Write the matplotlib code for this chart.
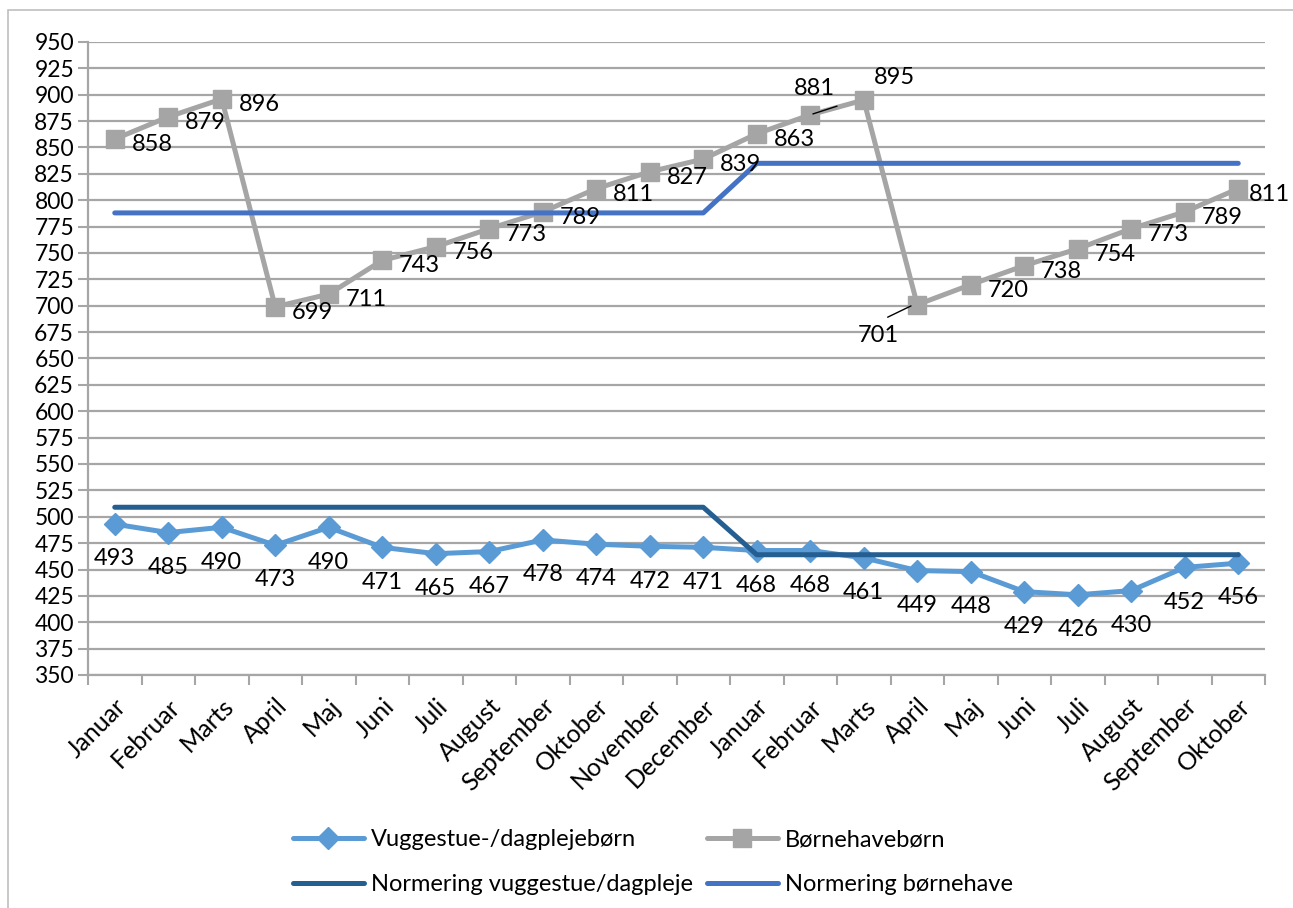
import matplotlib.pyplot as plt
from matplotlib.patches import Rectangle
from matplotlib.lines import Line2D
import numpy as np

plt.rcParams['font.family'] = ['Lato', 'DejaVu Sans']

# data
months = ["Januar", "Februar", "Marts", "April", "Maj", "Juni", "Juli", "August",
          "September", "Oktober", "November", "December",
          "Januar", "Februar", "Marts", "April", "Maj", "Juni", "Juli", "August",
          "September", "Oktober"]
vuggestue = [493, 485, 490, 473, 490, 471, 465, 467, 478, 474, 472, 471,
             468, 468, 461, 449, 448, 429, 426, 430, 452, 456]
boernehave = [858, 879, 896, 699, 711, 743, 756, 773, 789, 811, 827, 839,
              863, 881, 895, 701, 720, 738, 754, 773, 789, 811]
norm_vugge = [509] * 12 + [464] * 10
norm_boern = [788] * 12 + [835] * 10

c_vugge = '#5B9BD5'
c_boern = '#A5A5A5'
c_nvugge = '#255E91'
c_nboern = '#4472C4'

W, H = 1293, 908
fig = plt.figure(figsize=(W / 100, H / 100), dpi=100)

# outer chart frame (cut off at right/bottom in the reference)
fig.patches.append(Rectangle((8 / W, -0.1), 1.2, 1 - 10 / H + 0.1, transform=fig.transFigure,
                             fill=False, edgecolor='#BFBFBF', lw=1.2))

ax = fig.add_axes([88 / W, 1 - 675 / H, (1265 - 88) / W, (675 - 42) / H])
x = np.arange(len(months))

ax.plot(x, vuggestue, color=c_vugge, lw=3.6, marker='D', ms=11, zorder=3,
        solid_capstyle='round', label='Vuggestue-/dagplejebørn')
ax.plot(x, boernehave, color=c_boern, lw=3.6, marker='s', ms=13, zorder=3,
        solid_capstyle='round', label='Børnehavebørn')
ax.plot(x, norm_vugge, color=c_nvugge, lw=3.6, zorder=4, solid_capstyle='round',
        label='Normering vuggestue/dagpleje')
ax.plot(x, norm_boern, color=c_nboern, lw=3.6, zorder=4, solid_capstyle='round',
        label='Normering børnehave')

ax.set_xlim(-0.5, len(months) - 0.5)
ax.set_ylim(350, 950)
ax.set_yticks(np.arange(350, 951, 25))
ax.set_xticks(np.arange(-0.5, len(months), 1), minor=False)
ax.set_xticklabels([])
ax.set_xticks(x, minor=True)
ax.set_xticklabels(months, minor=True, rotation=45, ha='right', rotation_mode='anchor',
                   fontsize=18)
ax.tick_params(axis='x', which='major', length=7, width=1.5, color='#A6A6A6')
ax.tick_params(axis='x', which='minor', length=0, pad=14)
ax.tick_params(axis='y', length=7, width=1.5, color='#A6A6A6', labelsize=16.5, pad=3)

ax.grid(axis='y', color='#A6A6A6', lw=1.6)
ax.set_axisbelow(True)
for s in ['top', 'right']:
    ax.spines[s].set_visible(False)
for s in ['left', 'bottom']:
    ax.spines[s].set_color('#A6A6A6')
    ax.spines[s].set_linewidth(1.6)

# data labels
for xi, v in zip(x, vuggestue):
    ax.annotate(str(v), (xi, v), xytext=(0, -25), textcoords='offset points',
                ha='center', va='center', fontsize=17, zorder=6)

special = {13: (3, 19), 14: (22, 16), 15: (-28, -22)}
last = len(boernehave) - 1
for xi, v in zip(x, boernehave):
    if xi in special:
        dx, dy = special[xi]
        ax.annotate(str(v), (xi, v), xytext=(dx, dy), textcoords='offset points',
                    ha='center', va='center', fontsize=17, zorder=6)
    else:
        dx = 8 if xi == last else 12
        ax.annotate(str(v), (xi, v), xytext=(dx, -4), textcoords='offset points',
                    ha='left', va='center', fontsize=17, zorder=6)

# leader lines for the moved labels
ax.annotate('', (13, 881), xytext=(13.55, 890), arrowprops=dict(arrowstyle='-', lw=1, color='black'))
ax.annotate('', (14.93, 701), xytext=(14.4, 688), arrowprops=dict(arrowstyle='-', lw=1, color='black'))

handles = [
    Line2D([], [], color=c_vugge, lw=3.6, marker='D', ms=11, solid_capstyle='round'),
    Line2D([], [], color=c_nvugge, lw=3.6, solid_capstyle='round'),
    Line2D([], [], color=c_boern, lw=3.6, marker='s', ms=13, solid_capstyle='round'),
    Line2D([], [], color=c_nboern, lw=3.6, solid_capstyle='round'),
]
labels = ['Vuggestue-/dagplejebørn', 'Normering vuggestue/dagpleje',
          'Børnehavebørn', 'Normering børnehave']
fig.legend(handles, labels, ncol=2, loc='center', bbox_to_anchor=(0.505, 1 - 862 / H),
           frameon=False, fontsize=17, handlelength=3.0, columnspacing=0.6,
           handletextpad=0.3, labelspacing=1.0)

fig.savefig('out.png', dpi=100)
